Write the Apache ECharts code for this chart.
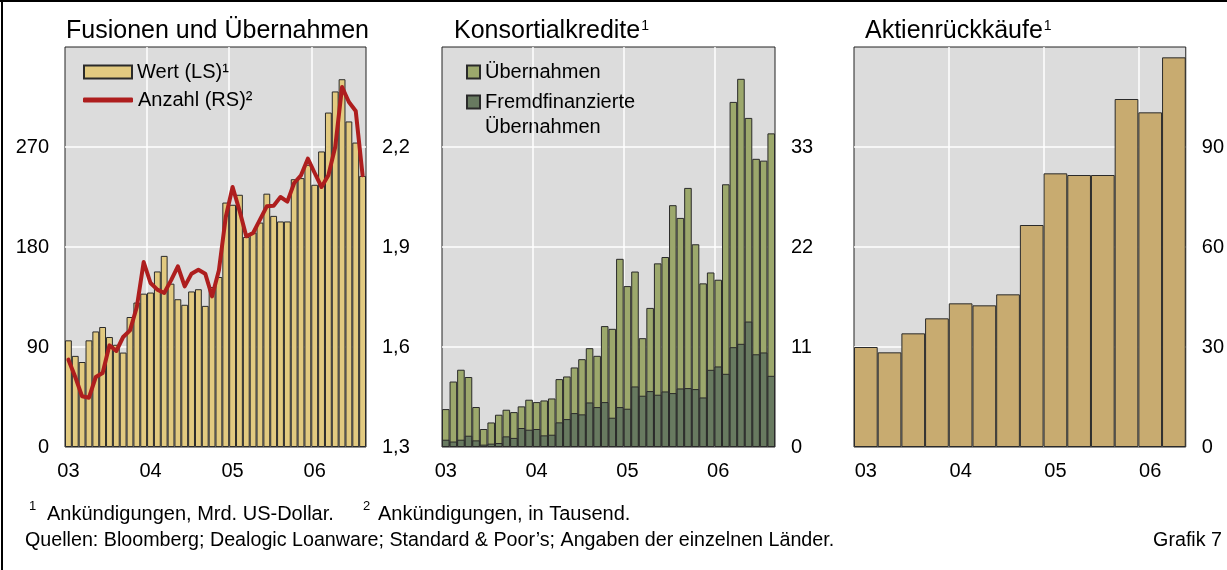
<!DOCTYPE html>
<html><head><meta charset="utf-8">
<script src="https://cdn.jsdelivr.net/npm/echarts@6/dist/echarts.min.js"></script>
<style>html,body{margin:0;padding:0;background:#fff}#c{width:1227px;height:570px}</style>
</head><body><div id="c"></div>
<script>
const FONT = '"Liberation Sans", Arial, Helvetica, sans-serif';

// tick labels
const yearLabels = ['03', '04', '05', '06'];

// categories: monthly Jan 2003 – Aug 2006, quarterly Q1 2003 – Q2 2006
const months = [];
for (let y = 2003; y <= 2006; y++) for (let m = 1; m <= 12; m++) if (months.length < 44) months.push(y + '-' + String(m).padStart(2, '0'));
const quarters = [];
for (let y = 2003; y <= 2006; y++) for (let q = 1; q <= 4; q++) if (quarters.length < 14) quarters.push(y + ' Q' + q);

// Fusionen und Übernahmen
const wertLS = [96,82,76.5,96,104,108,99,92,85,117,130,138,139,158,172,147,133,128,140,142,127,144,153,220,218,227,189,193,202,228,208,203,203,241,242,254,236,266,301,320,331,293,274,244];
const anzahlRS = [1.562,1.51,1.452,1.448,1.51,1.522,1.605,1.588,1.63,1.65,1.72,1.855,1.792,1.772,1.762,1.80,1.842,1.782,1.82,1.832,1.82,1.752,1.83,1.99,2.08,2.01,1.932,1.942,1.982,2.022,2.024,2.05,2.036,2.092,2.115,2.165,2.122,2.08,2.115,2.20,2.38,2.335,2.308,2.115];

// Konsortialkredite
const uebernahmen = [4.17,7.2,8.5,7.7,4.4,1.98,2.7,3.55,4.1,3.84,4.47,5.2,4.94,5.12,5.34,7.47,7.76,8.75,9.66,10.87,10.03,13.3,13.0,20.7,17.7,19.3,11.97,15.3,20.2,20.9,26.6,25.2,28.5,22.3,18.0,19.2,18.4,28.9,37.96,40.5,36.2,31.7,31.5,34.5];
const fremdfinanziert = [0.8,0.6,0.8,1.24,0.73,0.26,0.37,0.44,1.17,1.0,2.09,1.9,1.98,1.28,1.35,2.71,3.07,3.73,3.59,4.9,4.39,4.94,3.22,4.39,4.21,6.66,5.64,6.15,5.75,6.11,5.93,6.44,6.48,6.37,5.45,8.49,8.86,8.05,10.98,11.35,13.8,10.2,10.4,7.83];

// Aktienrückkäufe
const aktien = [30.0,28.4,34.1,38.6,43.1,42.5,45.8,66.6,82.1,81.6,81.6,104.4,100.4,116.9];

const BG = '#DCDCDC';
const GRIDLINE = {show: true, showMinLine: false, showMaxLine: false, lineStyle: {color: '#fff', width: 1.5}};
const LBL = {fontSize: 20, color: '#000', fontFamily: FONT};

function catAxis(gi, data, per) {
  return {
    type: 'category', gridIndex: gi, data: data, boundaryGap: true, position: 'bottom',
    axisLine: {show: false}, axisTick: {show: false}, splitLine: {show: false},
    axisLabel: Object.assign({
      margin: 14,
      interval: (idx) => idx % per === 0,
      formatter: (val, idx) => yearLabels[idx / per] || ''
    }, LBL)
  };
}
function gridAxis(gi, max, per) {
  return {
    type: 'value', gridIndex: gi, min: 0, max: max, interval: per, position: 'bottom',
    axisLine: {show: false}, axisTick: {show: false}, axisLabel: {show: false},
    splitLine: GRIDLINE
  };
}
function valAxis(gi, pos, min, max, interval, fmt, split) {
  return {
    type: 'value', gridIndex: gi, position: pos, min: min, max: max, interval: interval,
    axisLine: {show: false}, axisTick: {show: false},
    axisLabel: Object.assign({margin: 16, showMaxLabel: false, formatter: fmt}, LBL),
    splitLine: split ? GRIDLINE : {show: false}
  };
}
const gridBase = {show: true, backgroundColor: BG, borderColor: '#222', borderWidth: 1, containLabel: false};
const legText = {fontSize: 20, color: '#000', fontFamily: FONT};
const titleRich = {
  t: {fontSize: 25, fontWeight: 'normal', color: '#000', fontFamily: FONT, lineHeight: 28},
  s: {fontSize: 14, fontWeight: 'normal', color: '#000', fontFamily: FONT, lineHeight: 16, verticalAlign: 'top', padding: [2, 0, 0, 1]}
};

const option = {
  animation: false,
  textStyle: {fontFamily: FONT},
  title: [
    {text: '{t|Fusionen und Übernahmen}', left: 66, top: 17, padding: 0, textStyle: {fontWeight: 'normal', rich: titleRich}},
    {text: '{t|Konsortialkredite}{s|1}', left: 454, top: 17, padding: 0, textStyle: {fontWeight: 'normal', rich: titleRich}},
    {text: '{t|Aktienrückkäufe}{s|1}', left: 865, top: 17, padding: 0, textStyle: {fontWeight: 'normal', rich: titleRich}}
  ],
  legend: [
    {left: 83, top: 62, padding: 0, selectedMode: false, icon: 'rect', itemWidth: 48, itemHeight: 13,
     data: ['Wert (LS)¹'], textStyle: legText},
    {left: 83, top: 90, padding: 0, selectedMode: false, itemWidth: 50, itemHeight: 5,
     data: [{name: 'Anzahl (RS)²', icon: 'roundRect'}], textStyle: legText},
    {left: 466, top: 62, padding: 0, selectedMode: false, icon: 'rect', itemWidth: 13, itemHeight: 13,
     data: ['Übernahmen'], textStyle: legText},
    {left: 466, top: 92, padding: 0, selectedMode: false, icon: 'rect', itemWidth: 13, itemHeight: 13,
     data: ['Fremdfinanzierte Übernahmen'], formatter: () => 'Fremdfinanzierte', textStyle: legText}
  ],
  grid: [
    Object.assign({left: 65, top: 47, width: 301, height: 400}, gridBase),
    Object.assign({left: 442, top: 47, width: 333, height: 400}, gridBase),
    Object.assign({left: 854, top: 47, width: 338, height: 400}, gridBase)
  ],
  xAxis: [
    catAxis(0, months, 12), gridAxis(0, 44, 12),
    catAxis(1, months, 12), gridAxis(1, 44, 12),
    catAxis(2, quarters, 4), gridAxis(2, 14, 4)
  ],
  yAxis: [
    valAxis(0, 'left', 0, 360, 90, v => String(v), true),
    valAxis(0, 'right', 1.3, 2.5, 0.3, v => v.toFixed(1).replace('.', ','), false),
    valAxis(1, 'right', 0, 44, 11, v => String(v), true),
    valAxis(2, 'right', 0, 120, 30, v => String(v), true)
  ],
  series: [
    {name: 'Wert (LS)¹', type: 'bar', xAxisIndex: 0, yAxisIndex: 0, data: wertLS,
     barWidth: '100%', itemStyle: {color: '#E2CA80', borderColor: '#2a2a2a', borderWidth: 1}},
    {name: 'Anzahl (RS)²', type: 'line', xAxisIndex: 0, yAxisIndex: 1, data: anzahlRS,
     symbol: 'none', z: 5, itemStyle: {color: '#AE1E1E'},
     lineStyle: {color: '#AE1E1E', width: 4, join: 'round', cap: 'round'}},
    {name: 'Übernahmen', type: 'bar', xAxisIndex: 2, yAxisIndex: 2, data: uebernahmen,
     barGap: '-100%', barWidth: '100%', itemStyle: {color: '#9CA86C', borderColor: '#2a2a2a', borderWidth: 1}},
    {name: 'Fremdfinanzierte Übernahmen', type: 'bar', xAxisIndex: 2, yAxisIndex: 2, data: fremdfinanziert,
     barGap: '-100%', barWidth: '100%', itemStyle: {color: '#687A60', borderColor: '#2a2a2a', borderWidth: 1}},
    {name: 'Aktienrückkäufe', type: 'bar', xAxisIndex: 4, yAxisIndex: 3, data: aktien,
     barWidth: '100%', itemStyle: {color: '#C8AB70', borderColor: '#2a2a2a', borderWidth: 1}}
  ],
  graphic: [
    {type: 'line', shape: {x1: 0, y1: 1, x2: 1227, y2: 1}, style: {stroke: '#000', lineWidth: 2}, silent: true},
    {type: 'line', shape: {x1: 2, y1: 0, x2: 2, y2: 570}, style: {stroke: '#000', lineWidth: 2}, silent: true},
    {type: 'text', x: 485, y: 127, silent: true,
     style: {text: 'Übernahmen', font: '20px ' + FONT, fill: '#000', align: 'left', verticalAlign: 'middle'}},
    {type: 'text', x: 29, y: 506, silent: true,
     style: {text: '1', font: '13px ' + FONT, fill: '#000', align: 'left', verticalAlign: 'middle'}},
    {type: 'text', x: 47, y: 514, silent: true,
     style: {text: 'Ankündigungen, Mrd. US-Dollar.', font: '20px ' + FONT, fill: '#000', align: 'left', verticalAlign: 'middle'}},
    {type: 'text', x: 363, y: 506, silent: true,
     style: {text: '2', font: '13px ' + FONT, fill: '#000', align: 'left', verticalAlign: 'middle'}},
    {type: 'text', x: 378, y: 514, silent: true,
     style: {text: 'Ankündigungen, in Tausend.', font: '20px ' + FONT, fill: '#000', align: 'left', verticalAlign: 'middle'}},
    {type: 'text', x: 25, y: 541, silent: true,
     style: {text: 'Quellen: Bloomberg; Dealogic Loanware; Standard & Poor’s; Angaben der einzelnen Länder.', font: '19.7px ' + FONT, fill: '#000', align: 'left', verticalAlign: 'middle'}},
    {type: 'text', x: 1222, y: 541, silent: true,
     style: {text: 'Grafik 7', font: '19.7px ' + FONT, fill: '#000', align: 'right', verticalAlign: 'middle'}}
  ]
};
const chart = echarts.init(document.getElementById('c'));
chart.setOption(option);
</script>
</body></html>
